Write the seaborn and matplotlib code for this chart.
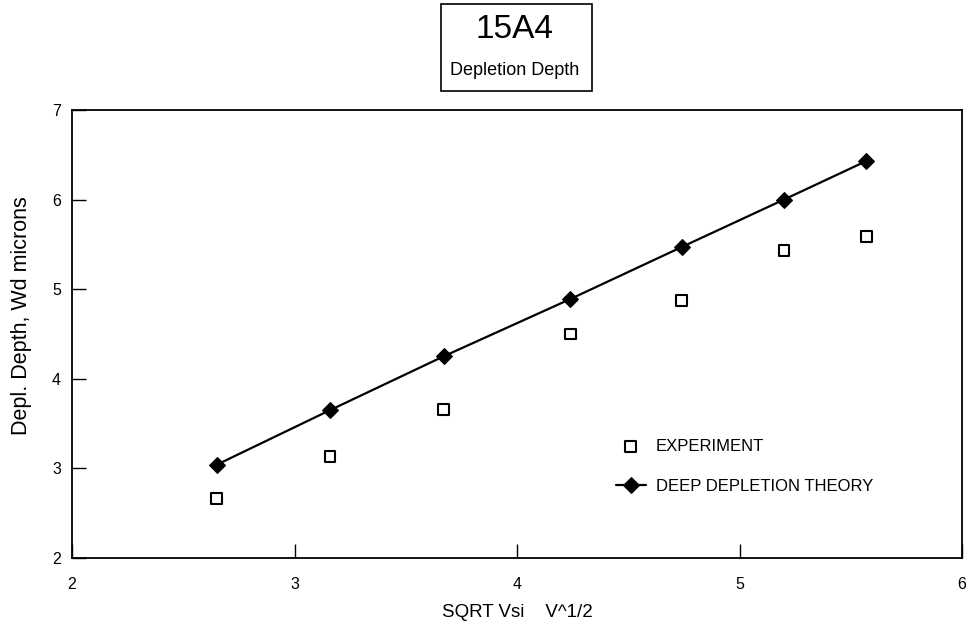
import matplotlib
matplotlib.use("Agg")
import matplotlib.pyplot as plt
import seaborn as sns
import pandas as pd

sqrt_v = [2.65, 3.16, 3.67, 4.24, 4.74, 5.20, 5.57]
experiment = [2.66, 3.13, 3.66, 4.50, 4.87, 5.43, 5.59]
theory = [3.04, 3.65, 4.25, 4.89, 5.47, 6.00, 6.43]
x_ticks = [2, 3, 4, 5, 6]
y_ticks = [2, 3, 4, 5, 6, 7]

sns.set_theme(style="white")
plt.rcParams['font.family'] = ['Liberation Sans', 'DejaVu Sans']
plt.rcParams['text.color'] = 'black'
plt.rcParams['axes.labelcolor'] = 'black'

df = pd.DataFrame({"x": sqrt_v, "exp": experiment, "theory": theory})

fig = plt.figure(figsize=(9.66, 6.28), dpi=100)
ax = fig.add_axes([0.0745, 0.1115, 0.9215, 0.7135])

sns.lineplot(data=df, x="x", y="theory", ax=ax, color="black", linewidth=1.6,
             marker="D", markersize=8, markeredgecolor="black",
             label="DEEP DEPLETION THEORY")
sns.scatterplot(data=df, x="x", y="exp", ax=ax, marker="s", s=60,
                facecolor="none", edgecolor="black", linewidth=1.5,
                label="EXPERIMENT")

ax.set_xlim(2, 6)
ax.set_ylim(2, 7)
ax.set_xticks(x_ticks)
ax.set_yticks(y_ticks)
ax.tick_params(axis="both", direction="in", length=10, width=1, colors="black",
               labelsize=11.5, bottom=True, left=True, top=False, right=False, pad=8)
ax.tick_params(axis="x", pad=14)
for s in ax.spines.values():
    s.set_color("black")
    s.set_linewidth(1.3)
ax.set_xlabel("SQRT Vsi    V^1/2", fontsize=13.5, color="black", labelpad=8)
ax.set_ylabel("Depl. Depth, Wd microns", fontsize=15.5, color="black")
ax.yaxis.set_label_coords(-0.045, 0.54)
ax.grid(False)

h, l = ax.get_legend_handles_labels()
order = [l.index("EXPERIMENT"), l.index("DEEP DEPLETION THEORY")]
leg = ax.legend([h[i] for i in order], [l[i] for i in order], frameon=False,
                loc="upper left", bbox_to_anchor=(0.594, 0.30), fontsize=12,
                handlelength=1.8, labelspacing=1.5, handletextpad=0.6)

fig.text(0.533, 0.953, "15A4", ha="center", va="center", fontsize=24)
fig.text(0.533, 0.887, "Depletion Depth", ha="center", va="center", fontsize=13)
rect = plt.Rectangle((441 / 966, 1 - 91 / 628), (592 - 441) / 966, (91 - 4) / 628,
                     transform=fig.transFigure, fill=False, edgecolor="black",
                     linewidth=1.2)
fig.add_artist(rect)

fig.savefig("out.png", dpi=100)
